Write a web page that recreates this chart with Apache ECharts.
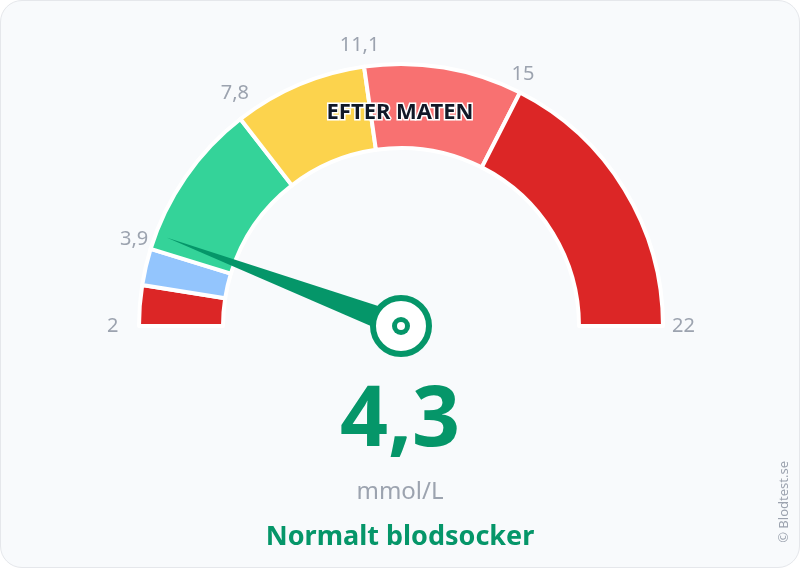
<!DOCTYPE html>
<html>
<head>
<meta charset="utf-8">
<script src="https://cdn.jsdelivr.net/npm/echarts@6/dist/echarts.min.js"></script>
<style>
  html, body { margin: 0; padding: 0; background: #ffffff; }
  #gauge { position: absolute; left: 0; top: 0; width: 798px; height: 566px;
           background: #f8fafc; border: 1px solid #e5e7eb; border-radius: 22px; overflow: hidden; }
</style>
</head>
<body>
<div id="gauge"></div>
<script>
// zone boundaries and colours
const minValue = 2;
const maxValue = 22;
const bounds = [2, 3, 3.9, 7.8, 11.1, 15, 22];
const zoneColors = ["#dc2626", "#93c5fd", "#34d399", "#fcd34d", "#f87171", "#dc2626"];
const tickLabels = [2, 3.9, 7.8, 11.1, 15, 22];
const currentValue = 4.3;
const unit = "mmol/L";
const status = "Normalt blodsocker";
const mealLabel = "EFTER MATEN";

var myChart = echarts.init(document.getElementById("gauge"));
const fmt = v => String(v).replace(".", ",");

const zones = [];
for (let i = 0; i < zoneColors.length; i++) {
    zones.push({ value: +(bounds[i + 1] - bounds[i]).toFixed(2), itemStyle: { color: zoneColors[i] } });
}

const font = "Noto Sans";

myChart.setOption({
    title: [
        { text: fmt(currentValue), left: "center", top: 374,
          textStyle: { fontFamily: font, fontSize: 84, fontWeight: "bold", color: "#059669" } },
        { text: unit, left: "center", top: 474,
          textStyle: { fontFamily: font, fontSize: 24, fontWeight: "normal", color: "#9ca3af" } },
        { text: status, left: "center", top: 518,
          textStyle: { fontFamily: font, fontSize: 27, fontWeight: "bold", color: "#059669" } },
        { text: mealLabel, left: "center", top: 96,
          textStyle: { fontFamily: font, fontSize: 22, fontWeight: "bold", color: "#111827",
                       textBorderColor: "#ffffff", textBorderWidth: 3 } }
    ],
    graphic: [
        { type: "text", right: 8, top: 460, rotation: Math.PI / 2,
          style: { text: "© Blodtest.se", fontFamily: font, fontSize: 13, fill: "#9ca3af" } },
        { type: "circle", shape: { cx: 400, cy: 325, r: 9 }, style: { fill: "#059669" }, z: 100 },
        { type: "circle", shape: { cx: 400, cy: 325, r: 4 }, style: { fill: "#ffffff" }, z: 101 }
    ],
    series: [
        {
            type: "pie",
            silent: true,
            z: 1,
            center: [400, 325],
            radius: [178, 262],
            startAngle: 180,
            endAngle: 0,
            clockwise: true,
            label: { show: false },
            labelLine: { show: false },
            itemStyle: { borderColor: "#ffffff", borderWidth: 4 },
            data: zones
        },
        {
            type: "gauge",
            z: 5,
            center: [400, 325],
            radius: 262,
            startAngle: 180,
            endAngle: 0,
            min: minValue,
            max: maxValue,
            splitNumber: 200,
            axisLine: { show: false },
            axisTick: { show: false },
            splitLine: { show: false, length: 0, distance: 0 },
            axisLabel: {
                distance: -32,
                color: "#9ca3af",
                fontFamily: font,
                fontSize: 20,
                formatter: v => {
                    const r = Math.round(v * 10) / 10;
                    return tickLabels.some(t => Math.abs(t - r) < 1e-6) ? fmt(r) : "";
                }
            },
            pointer: {
                icon: "path://M0,100 L10,100 L5,0 Z",
                length: 250,
                width: 24,
                offsetCenter: [0, 0],
                keepAspect: false,
                itemStyle: { color: "#059669" }
            },
            anchor: {
                show: true,
                showAbove: true,
                size: 56,
                icon: "circle",
                itemStyle: { color: "#ffffff", borderColor: "#059669", borderWidth: 6 }
            },
            title: { show: false },
            detail: { show: false },
            data: [{ value: currentValue }]
        }
    ]
});
</script>
</body>
</html>
